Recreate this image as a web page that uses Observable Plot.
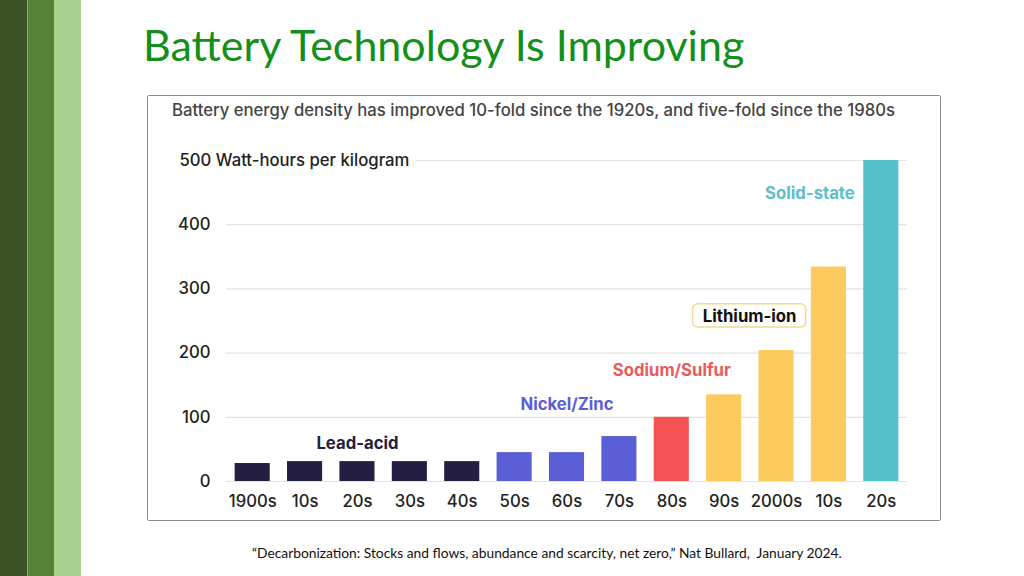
<!DOCTYPE html>
<html>
<head>
<meta charset="utf-8">
<script src="https://cdn.jsdelivr.net/npm/d3@7"></script>
<script src="https://cdn.jsdelivr.net/npm/@observablehq/plot@0.6"></script>
<style>
  html, body { margin: 0; padding: 0; background: #fff; }
  #page { position: relative; width: 1024px; height: 576px; overflow: hidden; background: #fff; }
  .stripe { position: absolute; top: 0; height: 576px; }
  #title { position: absolute; left: 143px; top: 19px; font-family: Lato, sans-serif; font-size: 43px; color: #12901a; white-space: nowrap; }
  #box { position: absolute; left: 147px; top: 95px; width: 792px; height: 424px; border: 1px solid #8a8a8a; border-radius: 2px; }
  #subtitle { position: absolute; left: 172px; top: 100px; font-family: Inter, sans-serif; font-size: 16.7px; font-weight: 500; color: #444; white-space: nowrap; }
  #chart { position: absolute; left: 147px; top: 140px; }
  #caption { position: absolute; left: 252px; top: 544px; font-family: Lato, sans-serif; font-size: 13.8px; color: #111; white-space: nowrap; }
</style>
</head>
<body>
<div id="page">
  <div class="stripe" style="left:0;width:27px;background:#3b5326;"></div>
  <div class="stripe" style="left:27px;width:1px;background:#8aa56f;"></div>
  <div class="stripe" style="left:28px;width:26px;background:#558236;"></div>
  <div class="stripe" style="left:54px;width:27px;background:#a9d18e;"></div>
  <div id="title">Battery Technology Is Improving</div>
  <div id="box"></div>
  <div id="subtitle">Battery energy density has improved 10-fold since the 1920s, and five-fold since the 1980s</div>
  <div id="chart"></div>
  <div id="caption">“Decarbonization: Stocks and flows, abundance and scarcity, net zero,” Nat Bullard,&nbsp; January 2024.</div>
</div>
<script>
// Data
const decades = ["1900s","1910s","1920s","1930s","1940s","1950s","1960s","1970s","1980s","1990s","2000s","2010s","2020s"];
const tickLabels = ["1900s","10s","20s","30s","40s","50s","60s","70s","80s","90s","2000s","10s","20s"];
const density = [28, 31, 31, 31, 31, 45, 45, 70, 100, 135, 204, 334, 500];
const technology = ["Lead-acid","Lead-acid","Lead-acid","Lead-acid","Lead-acid","Nickel/Zinc","Nickel/Zinc","Nickel/Zinc","Sodium/Sulfur","Lithium-ion","Lithium-ion","Lithium-ion","Solid-state"];
const techNames = ["Lead-acid","Nickel/Zinc","Sodium/Sulfur","Lithium-ion","Solid-state"];
const techColors = ["#241f42","#5b5fd6","#f55353","#fdca5e","#55c1c8"];
const labelColors = ["#231f3d","#5b5fd6","#ea5a5e","#111111","#5dc0c7"];
const yTicks = [0, 100, 200, 300, 400, 500];

const rows = decades.map((d, i) => ({decade: d, value: density[i], tech: technology[i]}));
const tickMap = new Map(decades.map((d, i) => [d, tickLabels[i]]));
const labelColor = new Map(techNames.map((t, i) => [t, labelColors[i]]));

const techLabels = [
  {decade: "1920s", y: 59, tech: "Lead-acid", dx: 0},
  {decade: "1960s", y: 120, tech: "Nickel/Zinc", dx: 0},
  {decade: "1980s", y: 173, tech: "Sodium/Sulfur", dx: 0},
  {decade: "1990s", y: 257, tech: "Lithium-ion", dx: 25.5},
  {decade: "2010s", y: 449, tech: "Solid-state", dx: -19}
];

const fs = 16.7;
const chart = Plot.plot({
  width: 794,
  height: 380,
  marginTop: 20,
  marginBottom: 39,
  marginLeft: 79,
  marginRight: 34,
  style: {fontFamily: "Inter, sans-serif", fontSize: fs + "px", color: "#222", background: "transparent"},
  x: {domain: decades, paddingInner: 0.33, paddingOuter: 0.165, round: false, axis: null, label: null},
  y: {domain: [0, 500], axis: null},
  color: {domain: techNames, range: techColors},
  marks: [
    Plot.ruleY(yTicks.filter(d => d < 500), {stroke: "#e3e3e3", strokeWidth: 1.2}),
    Plot.ruleY([500], {stroke: "#e3e3e3", strokeWidth: 1.2, insetLeft: 190}),
    Plot.text(yTicks.filter(d => d < 500), {y: d => d, text: d => String(d), frameAnchor: "left", dx: -16, textAnchor: "end", fill: "#222", fontSize: fs, fontWeight: 500}),
    Plot.text([500], {y: d => d, text: d => `${d} Watt-hours per kilogram`, frameAnchor: "left", dx: -47, textAnchor: "start", fill: "#222", fontSize: fs, fontWeight: 500}),
    Plot.barY(rows, {x: "decade", y: "value", fill: "tech"}),
    Plot.axisX({tickSize: 0, tickPadding: 14, tickFormat: d => tickMap.get(d), fontSize: fs, fontWeight: 500, fill: "#222", label: null}),
    // Lithium-ion label box
    Plot.barY([{decade: "1990s"}], {x: "decade", y1: 240, y2: 276, dx: 25.5, insetLeft: -39, insetRight: -39, fill: "white", stroke: "#f1d98c", strokeWidth: 1.5, rx: 5}),
    ...techLabels.map(l => Plot.text([l], {x: "decade", y: "y", text: "tech", dx: l.dx, fill: labelColor.get(l.tech), fontWeight: 700, fontSize: fs, lineAnchor: "middle"}))
  ]
});
document.getElementById("chart").append(chart);
</script>
</body>
</html>
